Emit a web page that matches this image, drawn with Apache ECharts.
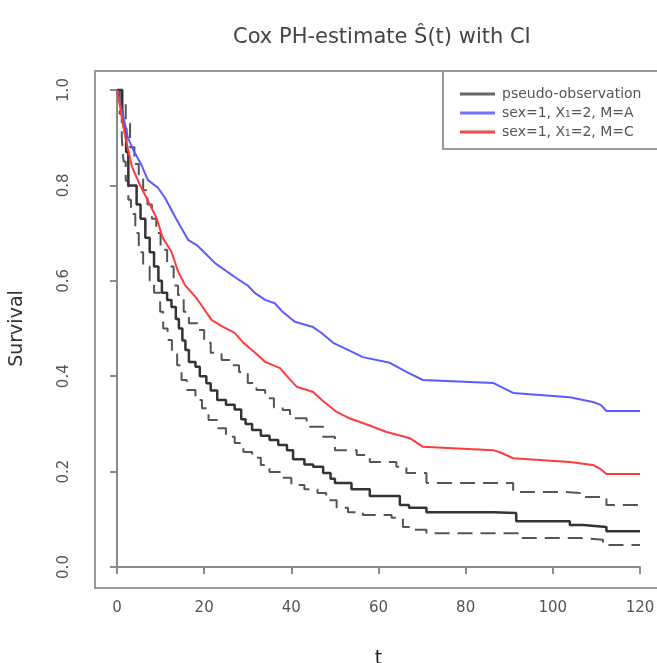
<!DOCTYPE html>
<html>
<head>
<meta charset="utf-8">
<script src="https://cdn.jsdelivr.net/npm/echarts@6/dist/echarts.min.js"></script>
<style>
html,body{margin:0;padding:0;background:#fff;}
#chart{width:657px;height:663px;}
</style>
</head>
<body>
<div id="chart"></div>
<script>
// ---- data ----
const titleText = 'Cox PH-estimate \u015C(t) with CI';
const xTitle = 't';
const yTitle = 'Survival';
const legendNames = ['pseudo-observation', 'sex=1, X\u2081=2, M=A', 'sex=1, X\u2081=2, M=C'];

// pseudo-observation (Cox PH estimate, step function)
const pseudoObs = [[0,1.0],[1.2,0.96],[1.6,0.92],[2.1,0.87],[2.6,0.80],[4.5,0.76],[5.4,0.73],[6.5,0.69],[7.5,0.66],[8.5,0.63],[9.5,0.6],[10.3,0.575],[11.5,0.56],[12.5,0.545],[13.5,0.52],[14.2,0.50],[15,0.475],[15.7,0.455],[16.5,0.43],[18,0.42],[19,0.40],[20.5,0.385],[21.5,0.37],[23,0.35],[25,0.34],[27,0.33],[28.5,0.31],[29.5,0.30],[31,0.287],[33,0.275],[35,0.266],[37,0.256],[39,0.245],[40.4,0.226],[43,0.215],[45,0.21],[47.3,0.197],[49,0.185],[50,0.176],[53.8,0.163],[58,0.149],[64.9,0.13],[67,0.124],[71,0.115],[86.3,0.113],[91.6,0.096],[103.9,0.088],[107,0.084],[112.3,0.075],[120,0.075]];
// lower confidence bound
const ciLower = [[0,1.0],[0.6,0.95],[1.1,0.90],[1.5,0.85],[2,0.81],[2.6,0.77],[3.2,0.74],[4.2,0.70],[5,0.66],[6,0.63],[7.5,0.60],[8.5,0.575],[9.9,0.535],[10.6,0.50],[11.6,0.476],[12.6,0.449],[13.8,0.423],[14.8,0.392],[16,0.371],[18,0.35],[19.5,0.333],[21,0.308],[23,0.291],[25,0.273],[27,0.26],[29,0.241],[31,0.229],[33,0.214],[35,0.199],[38,0.187],[40,0.172],[43,0.163],[46,0.155],[48,0.14],[50.4,0.124],[53,0.115],[56.4,0.109],[63,0.103],[65.6,0.084],[68,0.078],[71,0.071],[86.3,0.071],[92.4,0.061],[106.2,0.057],[111.5,0.046],[120,0.046]];
// upper confidence bound
const ciUpper = [[0,1.0],[1,0.98],[2,0.93],[3,0.88],[4,0.845],[5,0.82],[6,0.79],[7,0.76],[8,0.73],[9,0.70],[10,0.665],[11.5,0.63],[13,0.59],[14,0.57],[15.3,0.535],[16.5,0.511],[18.5,0.497],[20,0.47],[21.5,0.449],[24,0.434],[26,0.423],[28,0.409],[30,0.386],[32,0.371],[34,0.354],[36,0.335],[38,0.329],[39.7,0.312],[43.5,0.294],[47.3,0.273],[50,0.245],[55,0.235],[58,0.22],[64.1,0.21],[66.4,0.197],[71,0.176],[86.3,0.176],[90.9,0.157],[103,0.155],[106.2,0.147],[112.3,0.13],[120,0.13]];
// sex=1, X=2, M=A
const curveA = [[0,1],[1,0.96],[1.8,0.93],[2.5,0.9],[3.9,0.871],[5.5,0.845],[7.1,0.811],[9.4,0.795],[11,0.774],[13.5,0.731],[16.3,0.686],[18.3,0.675],[19.4,0.665],[22.5,0.637],[27,0.608],[30,0.59],[31.7,0.574],[34,0.56],[36.2,0.553],[38,0.535],[40.8,0.514],[45,0.503],[47,0.49],[49.6,0.47],[53,0.455],[56.4,0.44],[62.6,0.428],[66.4,0.409],[70.2,0.392],[86.3,0.386],[88,0.378],[90.9,0.365],[103.9,0.356],[109.2,0.346],[111,0.34],[112.3,0.327],[120,0.327]];
// sex=1, X=2, M=C
const curveC = [[0,1],[0.8,0.96],[1.8,0.906],[3.4,0.84],[5.3,0.80],[7,0.77],[9.1,0.731],[10.5,0.69],[12.5,0.661],[14,0.62],[15.6,0.591],[18.3,0.563],[21.7,0.518],[24,0.505],[27,0.491],[29,0.47],[31.7,0.449],[34,0.43],[37.4,0.417],[39,0.40],[41.2,0.378],[45,0.367],[47,0.35],[50.4,0.325],[53,0.313],[56.4,0.302],[61.9,0.283],[67.2,0.27],[70.2,0.252],[86.3,0.245],[88,0.24],[90.9,0.228],[103.9,0.22],[109.2,0.214],[111,0.205],[112.3,0.195],[120,0.195]];

const xTicks = {min: 0, max: 120, interval: 20};
const yTicks = {min: 0, max: 1, interval: 0.2};

// ---- chart ----
const FONT = 'DejaVu Sans';
const chart = echarts.init(document.getElementById('chart'), null, {renderer: 'canvas'});
const axisCol = '#8a8a8a';
const txtCol = '#555';

chart.setOption({
  backgroundColor: '#fff',
  animation: false,
  title: {
    text: titleText,
    left: 228,
    top: 22,
    textStyle: {fontFamily: FONT, fontSize: 21, fontWeight: 'normal', color: '#444'}
  },
  grid: {left: 117, right: 17, top: 90, bottom: 96, outerBoundsMode: 'none', containLabel: false},
  legend: {
    data: legendNames,
    orient: 'vertical',
    left: 455,
    top: 82,
    itemWidth: 35,
    itemHeight: 3,
    itemGap: 5,
    icon: 'rect',
    textStyle: {fontFamily: FONT, fontSize: 14, color: txtCol, padding: [0, 0, 0, 2], lineHeight: 14}
  },
  xAxis: {
    type: 'value',
    min: xTicks.min, max: xTicks.max, interval: xTicks.interval,
    offset: 21,
    name: xTitle,
    nameLocation: 'middle',
    nameGap: 62,
    nameTextStyle: {fontFamily: FONT, fontSize: 19, color: '#222'},
    axisLine: {show: true, lineStyle: {color: axisCol, width: 2}},
    axisTick: {show: true, inside: false, length: 7, lineStyle: {color: axisCol, width: 2}},
    axisLabel: {fontFamily: FONT, fontSize: 15, color: txtCol, margin: 13},
    splitLine: {show: false}
  },
  yAxis: {
    type: 'value',
    min: yTicks.min, max: yTicks.max, interval: yTicks.interval,
    offset: 22,
    name: yTitle,
    nameLocation: 'middle',
    nameGap: 68,
    nameRotate: 90,
    nameTextStyle: {fontFamily: FONT, fontSize: 19, color: '#333'},
    axisLine: {show: true, lineStyle: {color: axisCol, width: 2}},
    axisTick: {show: true, inside: false, length: 7, lineStyle: {color: axisCol, width: 2}},
    axisLabel: {fontFamily: FONT, fontSize: 15, color: txtCol, rotate: 90, margin: 23,
      formatter: v => v.toFixed(1)},
    splitLine: {show: false}
  },
  graphic: [
    {type: 'rect', shape: {x: 95, y: 71, width: 570, height: 517},
     style: {fill: 'none', stroke: '#9a9a9a', lineWidth: 2}, z: 1, silent: true},
    {type: 'rect', shape: {x: 443, y: 71, width: 230, height: 78},
     style: {fill: '#fff', stroke: '#9a9a9a', lineWidth: 2}, z: 1, silent: true}
  ],
  series: [
    {name: 'lower', type: 'line', step: 'end', data: ciLower, symbol: 'none', clip: false,
     lineStyle: {color: '#555', width: 2, type: [15, 8]}, z: 2},
    {name: 'upper', type: 'line', step: 'end', data: ciUpper, symbol: 'none', clip: false,
     lineStyle: {color: '#555', width: 2, type: [15, 8]}, z: 2},
    {name: legendNames[0], type: 'line', step: 'end', data: pseudoObs, symbol: 'none', clip: false,
     color: '#555', lineStyle: {color: '#333', width: 2.5}, itemStyle: {color: '#666'}, z: 3},
    {name: legendNames[1], type: 'line', data: curveA, symbol: 'none', clip: false,
     color: '#6f6fff', lineStyle: {color: '#5b5bff', width: 2}, itemStyle: {color: '#7272ff'}, z: 4},
    {name: legendNames[2], type: 'line', data: curveC, symbol: 'none', clip: false,
     color: '#ff4040', lineStyle: {color: '#ff3c3c', width: 2}, itemStyle: {color: '#ff4545'}, z: 4}
  ]
});
</script>
</body>
</html>
